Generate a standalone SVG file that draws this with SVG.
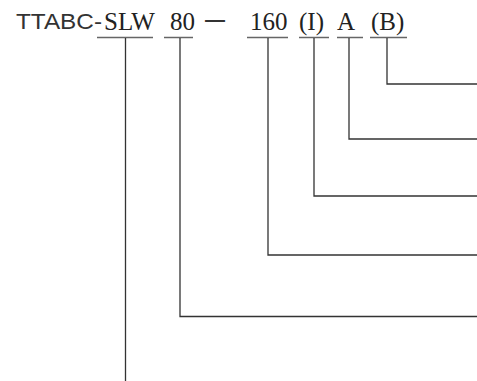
<svg xmlns="http://www.w3.org/2000/svg" width="477" height="381" viewBox="0 0 477 381">
<style>
.s{font-family:"Liberation Sans",Arial,sans-serif;font-size:22px;fill:#333}
.t{font-family:"Liberation Serif","Times New Roman",serif;font-size:25px;fill:#222}
.u{stroke:#666;stroke-width:1.5;fill:none}
.c{stroke:#333;stroke-width:1.3;fill:none}
</style>
<rect width="477" height="381" fill="#fff"/>
<g id="code">
<text class="s" x="16" y="29" textLength="86" lengthAdjust="spacingAndGlyphs">TTABC-</text>
<text class="t" x="104" y="30">SLW</text>
<text class="t" x="170" y="30">80</text>
<text class="s" x="205" y="25.5" style="font-size:20px;font-weight:bold">—</text>
<text class="t" x="250" y="30">160</text>
<text class="t" x="299" y="30">(I)</text>
<text class="t" x="337" y="30">A</text>
<text class="t" x="371" y="30">(B)</text>
</g>
<g id="underlines">
<line class="u" x1="97" y1="37.5" x2="153" y2="37.5"/>
<line class="u" x1="164" y1="37.5" x2="193" y2="37.5"/>
<line class="u" x1="247" y1="37.5" x2="288" y2="37.5"/>
<line class="u" x1="299" y1="37.5" x2="329" y2="37.5"/>
<line class="u" x1="337" y1="37.5" x2="363" y2="37.5"/>
<line class="u" x1="370" y1="37.5" x2="407" y2="37.5"/>
</g>
<g id="connectors">
<polyline class="c" points="125.5,38 125.5,381"/>
<polyline class="c" points="180,38 180,316.5 477,316.5"/>
<polyline class="c" points="268,38 268,255 477,255"/>
<polyline class="c" points="314,38 314,196 477,196"/>
<polyline class="c" points="349,38 349,139 477,139"/>
<polyline class="c" points="387,38 387,84 477,84"/>
</g>
</svg>
